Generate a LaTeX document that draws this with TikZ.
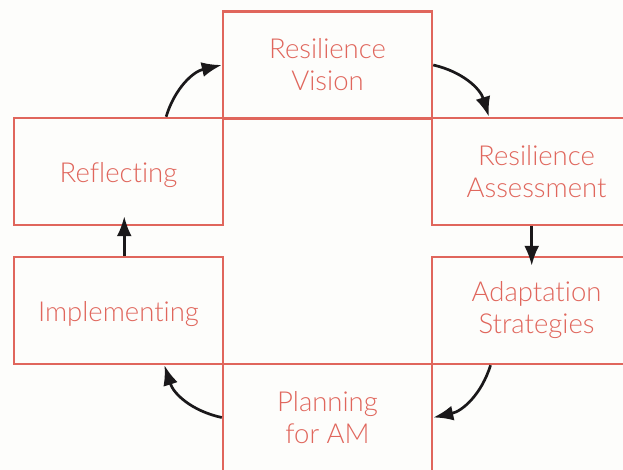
\documentclass[tikz,border=0pt]{standalone}
\usepackage{fontspec}
\setmainfont{Lato}[UprightFont=* Light,Ligatures=NoCommon]
\usetikzlibrary{arrows.meta}
\definecolor{boxred}{RGB}{224,102,92}
\definecolor{paper}{RGB}{253,253,251}
\definecolor{ink}{RGB}{26,24,26}

\begin{document}
\begin{tikzpicture}
  [x=1pt,y=-1pt,
   every node/.style={draw=boxred,line width=2.5pt,text=boxred,minimum width=209pt,minimum height=107pt,
     inner sep=0pt,align=center,font=\fontsize{27.5}{32}\selectfont},
   oneline/.style={text height=22pt,text depth=0pt},
   flow/.style={-{Latex[length=20pt,width=15pt]},line width=2.7pt,ink}]
  \useasboundingbox[fill=paper] (0,0) rectangle (623,470);
  \clip (0,0) rectangle (623,470);

  \node (vis) at (327.5,65) {Resilience\\Vision};
  \node[oneline] (refl) at (118.5,171.5) {Reflecting};
  \node (asm) at (536.5,171.5) {Resilience\\Assessment};
  \node[oneline] (imp) at (118.5,310.5) {Implementing};
  \node (adp) at (536.5,310.5) {Adaptation\\Strategies};
  \node (plan) at (327.5,417.5) {Planning\\for AM};

  % the cycle
  \foreach \from/\to in {refl.49/vis.west,vis.east/asm.131,adp.230/plan.east,plan.west/imp.310}
    \draw[flow] (\from) to[bend left=30] (\to);
  \foreach \from/\to in {asm.265/adp.95,imp.84/refl.276}
    \draw[flow,shorten >=-10pt] (\from) -- (\to);
\end{tikzpicture}
\end{document}
